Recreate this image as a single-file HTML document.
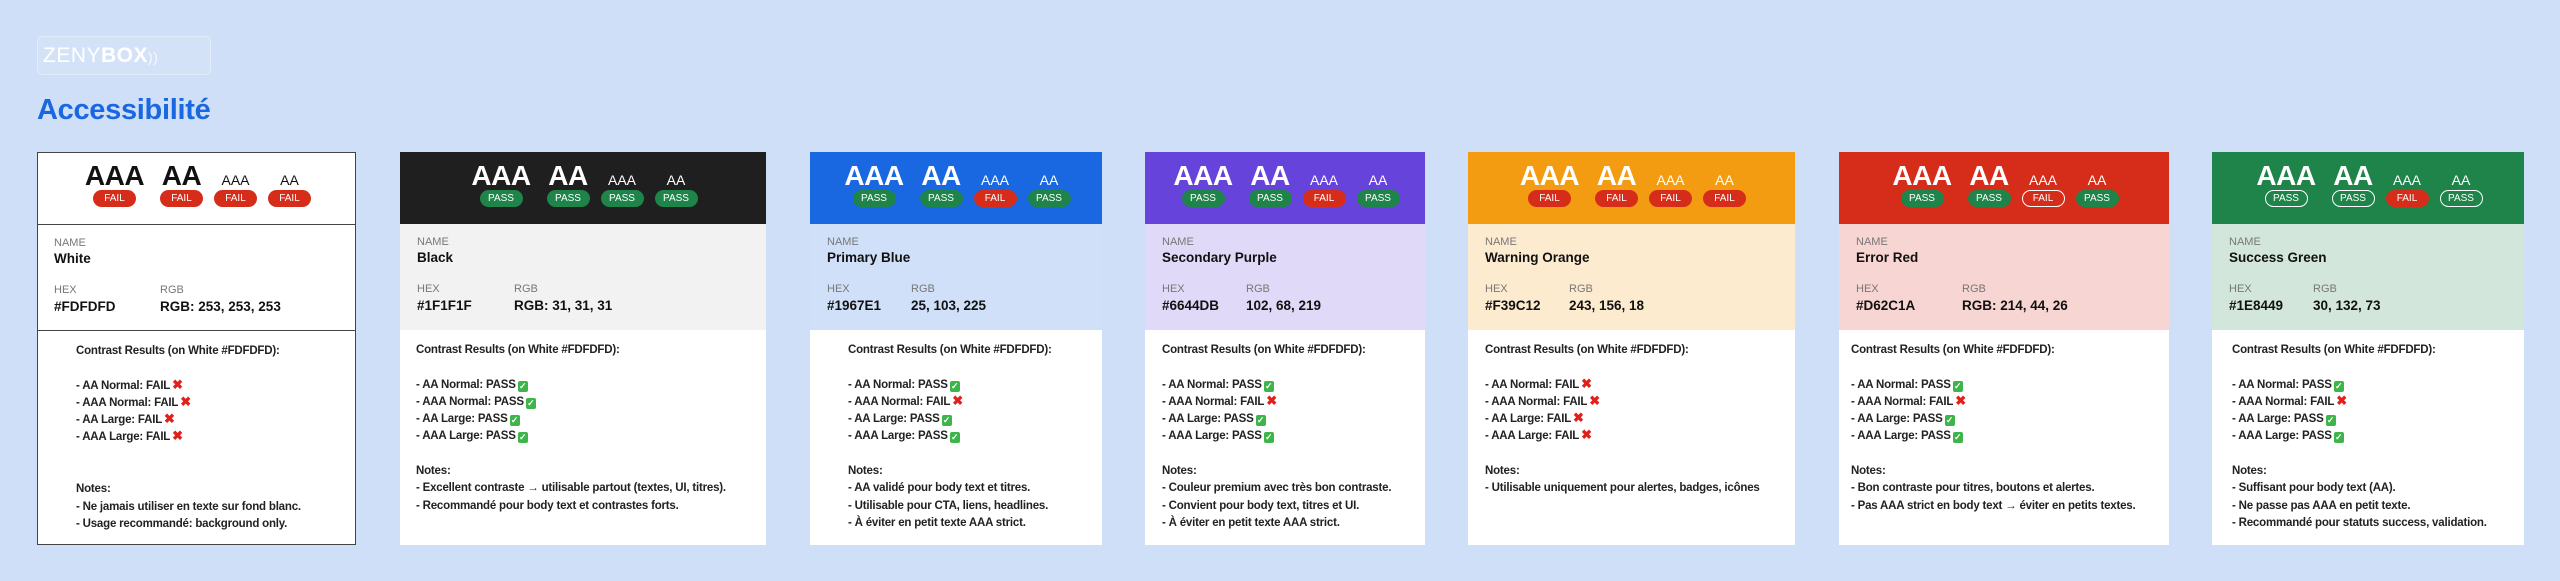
<!DOCTYPE html>
<html><head><meta charset="utf-8">
<style>
*{margin:0;padding:0;box-sizing:border-box}
body{width:2560px;height:581px;background:#cfdff7;font-family:"Liberation Sans",sans-serif;position:relative;overflow:hidden}
.logo{position:absolute;left:37px;top:36px;width:174px;height:39px;border:1px solid rgba(255,255,255,.35);background:rgba(255,255,255,.12);border-radius:5px;color:#fff;font-size:21px;line-height:37px;padding-left:5px;letter-spacing:0.5px}
.logo b{font-weight:bold}
.logo span.w{font-size:14px;opacity:.8}
h1{position:absolute;left:37px;top:94px;font-size:29px;color:#1967e1;font-weight:bold;letter-spacing:-0.3px}
.card{position:absolute;top:152px;height:393px;background:#fff}
.hd{position:absolute;left:0;right:0;top:0;height:72px;color:#fff}
.nm{position:absolute;left:0;right:0;top:72px;height:106px}
.ct{position:absolute;left:0;right:0;top:178px;bottom:0;background:#fff;padding-top:12px;font-size:11.5px;font-weight:bold;color:#222;line-height:17.3px;letter-spacing:-0.2px;white-space:pre}
.L{position:absolute;transform:translateX(-50%);white-space:nowrap}
.big{font-size:28px;font-weight:bold;line-height:28px;top:10px;letter-spacing:-0.5px}
.sm{font-size:14px;line-height:14px;top:21px}
.bd{position:absolute;top:38px;width:43px;height:17px;margin-left:-21.5px;border-radius:9px;font-size:10px;line-height:17px;text-align:center;color:#fff}
.P{background:#1e8449}.F{background:#d62c1a}.O{border:1px solid #fff;line-height:15px}
.lb{position:absolute;font-size:11px;color:#777;line-height:13px}
.v{position:absolute;font-size:13.5px;color:#111;font-weight:bold;line-height:16px}
.ok{display:inline-block;width:10px;height:11px;background:#3db54a;color:#fff;font-size:9px;line-height:11px;text-align:center;border-radius:2px;vertical-align:-1px;margin-left:2px}
.ct .ok{line-height:0;padding-top:5px;height:11px}
.no{color:#e0201b;font-size:13px;margin-left:2px;line-height:0}
</style></head><body>
<div class="logo">ZENY<b>BOX</b><span class="w">))</span></div>
<h1>Accessibilité</h1>

<!-- White -->
<div class="card" style="left:37px;width:319px;border:1px solid #444">
<div class="hd" style="color:#111;border-bottom:1px solid #444;top:-1px;left:-1px;right:-1px;height:73px">
<div class="L big" style="left:calc(50% - 82px)">AAA</div><div class="L big" style="left:calc(50% - 15px)">AA</div><div class="L sm" style="left:calc(50% + 39px)">AAA</div><div class="L sm" style="left:calc(50% + 93px)">AA</div>
<div class="bd F" style="left:calc(50% - 82px)">FAIL</div><div class="bd F" style="left:calc(50% - 15px)">FAIL</div><div class="bd F" style="left:calc(50% + 39px)">FAIL</div><div class="bd F" style="left:calc(50% + 93px)">FAIL</div></div>
<div class="nm" style="border-bottom:1px solid #444">
<div class="lb" style="left:16px;top:12px">NAME</div><div class="v" style="left:16px;top:26px">White</div>
<div class="lb" style="left:16px;top:59px">HEX</div><div class="v" style="left:16px;top:74px">#FDFDFD</div>
<div class="lb" style="left:122px;top:59px">RGB</div><div class="v" style="left:122px;top:74px">RGB: 253, 253, 253</div></div>
<div class="ct" style="padding-left:38px;top:178px">Contrast Results (on White #FDFDFD):

- AA Normal: FAIL<span class="no">✖</span>
- AAA Normal: FAIL<span class="no">✖</span>
- AA Large: FAIL<span class="no">✖</span>
- AAA Large: FAIL<span class="no">✖</span>


Notes:
- Ne jamais utiliser en texte sur fond blanc.
- Usage recommandé: background only.</div>
</div>

<!-- Black -->
<div class="card" style="left:400px;width:366px">
<div class="hd" style="background:#1f1f1f">
<div class="L big" style="left:calc(50% - 82px)">AAA</div><div class="L big" style="left:calc(50% - 15px)">AA</div><div class="L sm" style="left:calc(50% + 39px)">AAA</div><div class="L sm" style="left:calc(50% + 93px)">AA</div>
<div class="bd P" style="left:calc(50% - 82px)">PASS</div><div class="bd P" style="left:calc(50% - 15px)">PASS</div><div class="bd P" style="left:calc(50% + 39px)">PASS</div><div class="bd P" style="left:calc(50% + 93px)">PASS</div></div>
<div class="nm" style="background:#f2f2f2">
<div class="lb" style="left:17px;top:12px">NAME</div><div class="v" style="left:17px;top:26px">Black</div>
<div class="lb" style="left:17px;top:59px">HEX</div><div class="v" style="left:17px;top:74px">#1F1F1F</div>
<div class="lb" style="left:114px;top:59px">RGB</div><div class="v" style="left:114px;top:74px">RGB: 31, 31, 31</div></div>
<div class="ct" style="padding-left:16px">Contrast Results (on White #FDFDFD):

- AA Normal: PASS<span class="ok">✓</span>
- AAA Normal: PASS<span class="ok">✓</span>
- AA Large: PASS<span class="ok">✓</span>
- AAA Large: PASS<span class="ok">✓</span>

Notes:
- Excellent contraste → utilisable partout (textes, UI, titres).
- Recommandé pour body text et contrastes forts.</div>
</div>

<!-- Blue -->
<div class="card" style="left:810px;width:292px">
<div class="hd" style="background:#1967e1">
<div class="L big" style="left:calc(50% - 82px)">AAA</div><div class="L big" style="left:calc(50% - 15px)">AA</div><div class="L sm" style="left:calc(50% + 39px)">AAA</div><div class="L sm" style="left:calc(50% + 93px)">AA</div>
<div class="bd P" style="left:calc(50% - 82px)">PASS</div><div class="bd P" style="left:calc(50% - 15px)">PASS</div><div class="bd F" style="left:calc(50% + 39px)">FAIL</div><div class="bd P" style="left:calc(50% + 93px)">PASS</div></div>
<div class="nm" style="background:#d0e0f8">
<div class="lb" style="left:17px;top:12px">NAME</div><div class="v" style="left:17px;top:26px">Primary Blue</div>
<div class="lb" style="left:17px;top:59px">HEX</div><div class="v" style="left:17px;top:74px">#1967E1</div>
<div class="lb" style="left:101px;top:59px">RGB</div><div class="v" style="left:101px;top:74px">25, 103, 225</div></div>
<div class="ct" style="padding-left:38px">Contrast Results (on White #FDFDFD):

- AA Normal: PASS<span class="ok">✓</span>
- AAA Normal: FAIL<span class="no">✖</span>
- AA Large: PASS<span class="ok">✓</span>
- AAA Large: PASS<span class="ok">✓</span>

Notes:
- AA validé pour body text et titres.
- Utilisable pour CTA, liens, headlines.
- À éviter en petit texte AAA strict.</div>
</div>

<!-- Purple -->
<div class="card" style="left:1145px;width:280px">
<div class="hd" style="background:#6644db">
<div class="L big" style="left:calc(50% - 82px)">AAA</div><div class="L big" style="left:calc(50% - 15px)">AA</div><div class="L sm" style="left:calc(50% + 39px)">AAA</div><div class="L sm" style="left:calc(50% + 93px)">AA</div>
<div class="bd P" style="left:calc(50% - 82px)">PASS</div><div class="bd P" style="left:calc(50% - 15px)">PASS</div><div class="bd F" style="left:calc(50% + 39px)">FAIL</div><div class="bd P" style="left:calc(50% + 93px)">PASS</div></div>
<div class="nm" style="background:#e0d9f7">
<div class="lb" style="left:17px;top:12px">NAME</div><div class="v" style="left:17px;top:26px">Secondary Purple</div>
<div class="lb" style="left:17px;top:59px">HEX</div><div class="v" style="left:17px;top:74px">#6644DB</div>
<div class="lb" style="left:101px;top:59px">RGB</div><div class="v" style="left:101px;top:74px">102, 68, 219</div></div>
<div class="ct" style="padding-left:17px">Contrast Results (on White #FDFDFD):

- AA Normal: PASS<span class="ok">✓</span>
- AAA Normal: FAIL<span class="no">✖</span>
- AA Large: PASS<span class="ok">✓</span>
- AAA Large: PASS<span class="ok">✓</span>

Notes:
- Couleur premium avec très bon contraste.
- Convient pour body text, titres et UI.
- À éviter en petit texte AAA strict.</div>
</div>

<!-- Orange -->
<div class="card" style="left:1468px;width:327px">
<div class="hd" style="background:#f39c12">
<div class="L big" style="left:calc(50% - 82px)">AAA</div><div class="L big" style="left:calc(50% - 15px)">AA</div><div class="L sm" style="left:calc(50% + 39px)">AAA</div><div class="L sm" style="left:calc(50% + 93px)">AA</div>
<div class="bd F" style="left:calc(50% - 82px)">FAIL</div><div class="bd F" style="left:calc(50% - 15px)">FAIL</div><div class="bd F" style="left:calc(50% + 39px)">FAIL</div><div class="bd F" style="left:calc(50% + 93px)">FAIL</div></div>
<div class="nm" style="background:#fdebd0">
<div class="lb" style="left:17px;top:12px">NAME</div><div class="v" style="left:17px;top:26px">Warning Orange</div>
<div class="lb" style="left:17px;top:59px">HEX</div><div class="v" style="left:17px;top:74px">#F39C12</div>
<div class="lb" style="left:101px;top:59px">RGB</div><div class="v" style="left:101px;top:74px">243, 156, 18</div></div>
<div class="ct" style="padding-left:17px">Contrast Results (on White #FDFDFD):

- AA Normal: FAIL<span class="no">✖</span>
- AAA Normal: FAIL<span class="no">✖</span>
- AA Large: FAIL<span class="no">✖</span>
- AAA Large: FAIL<span class="no">✖</span>

Notes:
- Utilisable uniquement pour alertes, badges, icônes</div>
</div>

<!-- Red -->
<div class="card" style="left:1839px;width:330px">
<div class="hd" style="background:#d62c1a">
<div class="L big" style="left:calc(50% - 82px)">AAA</div><div class="L big" style="left:calc(50% - 15px)">AA</div><div class="L sm" style="left:calc(50% + 39px)">AAA</div><div class="L sm" style="left:calc(50% + 93px)">AA</div>
<div class="bd P" style="left:calc(50% - 82px)">PASS</div><div class="bd P" style="left:calc(50% - 15px)">PASS</div><div class="bd O" style="left:calc(50% + 39px)">FAIL</div><div class="bd P" style="left:calc(50% + 93px)">PASS</div></div>
<div class="nm" style="background:#f7d5d2">
<div class="lb" style="left:17px;top:12px">NAME</div><div class="v" style="left:17px;top:26px">Error Red</div>
<div class="lb" style="left:17px;top:59px">HEX</div><div class="v" style="left:17px;top:74px">#D62C1A</div>
<div class="lb" style="left:123px;top:59px">RGB</div><div class="v" style="left:123px;top:74px">RGB: 214, 44, 26</div></div>
<div class="ct" style="padding-left:12px">Contrast Results (on White #FDFDFD):

- AA Normal: PASS<span class="ok">✓</span>
- AAA Normal: FAIL<span class="no">✖</span>
- AA Large: PASS<span class="ok">✓</span>
- AAA Large: PASS<span class="ok">✓</span>

Notes:
- Bon contraste pour titres, boutons et alertes.
- Pas AAA strict en body text → éviter en petits textes.</div>
</div>

<!-- Green -->
<div class="card" style="left:2212px;width:312px">
<div class="hd" style="background:#1e8449">
<div class="L big" style="left:calc(50% - 82px)">AAA</div><div class="L big" style="left:calc(50% - 15px)">AA</div><div class="L sm" style="left:calc(50% + 39px)">AAA</div><div class="L sm" style="left:calc(50% + 93px)">AA</div>
<div class="bd O" style="left:calc(50% - 82px)">PASS</div><div class="bd O" style="left:calc(50% - 15px)">PASS</div><div class="bd F" style="left:calc(50% + 39px)">FAIL</div><div class="bd O" style="left:calc(50% + 93px)">PASS</div></div>
<div class="nm" style="background:#d2e6db">
<div class="lb" style="left:17px;top:12px">NAME</div><div class="v" style="left:17px;top:26px">Success Green</div>
<div class="lb" style="left:17px;top:59px">HEX</div><div class="v" style="left:17px;top:74px">#1E8449</div>
<div class="lb" style="left:101px;top:59px">RGB</div><div class="v" style="left:101px;top:74px">30, 132, 73</div></div>
<div class="ct" style="padding-left:20px">Contrast Results (on White #FDFDFD):

- AA Normal: PASS<span class="ok">✓</span>
- AAA Normal: FAIL<span class="no">✖</span>
- AA Large: PASS<span class="ok">✓</span>
- AAA Large: PASS<span class="ok">✓</span>

Notes:
- Suffisant pour body text (AA).
- Ne passe pas AAA en petit texte.
- Recommandé pour statuts success, validation.</div>
</div>
</body></html>
